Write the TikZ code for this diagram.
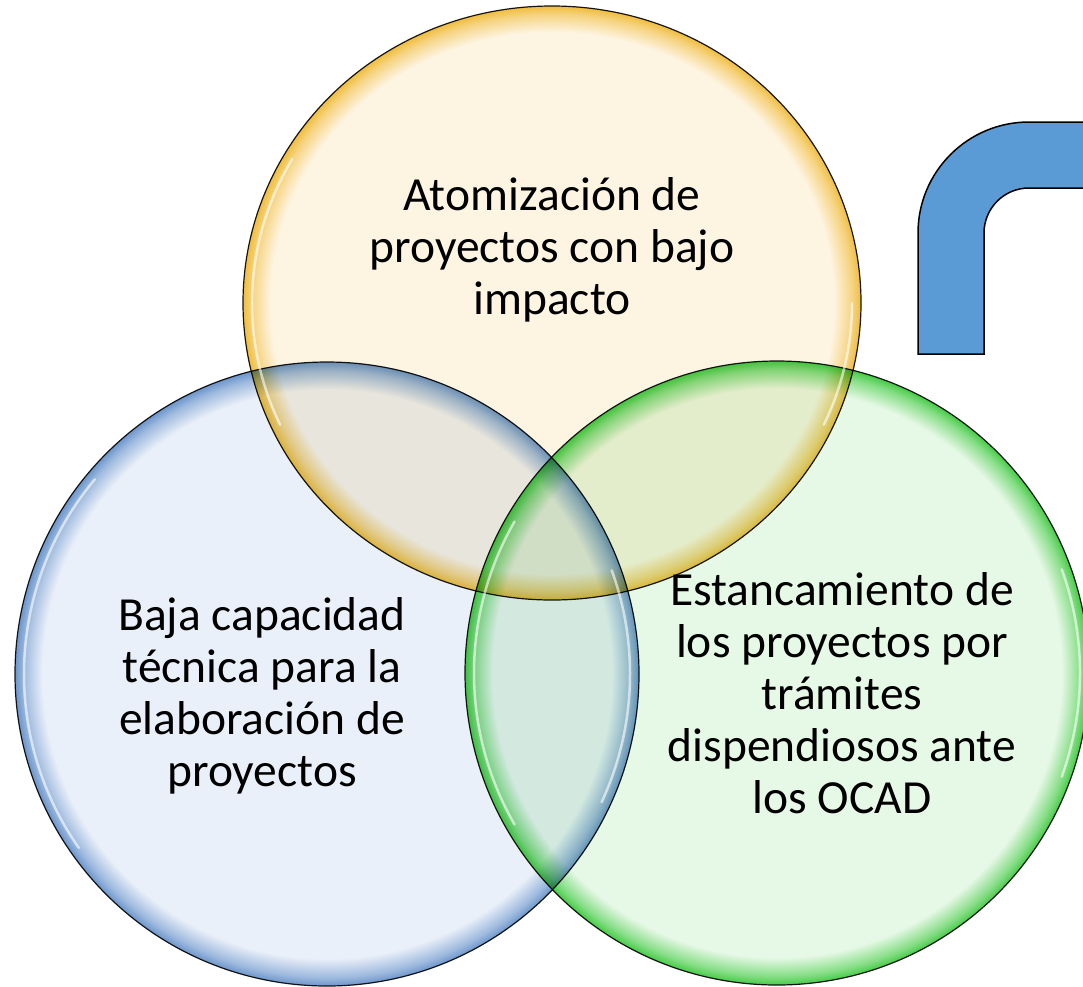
\documentclass[tikz,border=0pt]{standalone}
\usepackage{fontspec}
\setmainfont{Carlito}
\usetikzlibrary{shapes.geometric}
\definecolor{yelin}{HTML}{FDF4E2}
\definecolor{yelout}{HTML}{F0BD3E}
\definecolor{bluin}{HTML}{EAF0F9}
\definecolor{bluout}{HTML}{6C96CC}
\definecolor{grnin}{HTML}{E6F8E6}
\definecolor{grnout}{HTML}{45CC45}
\definecolor{bendblue}{HTML}{5B9BD5}
\pgfdeclareradialshading{yelglass}{\pgfpoint{0bp}{0bp}}{color(0bp)=(yelin); color(22.8bp)=(yelin); color(24.3bp)=(yelout!60!yelin); color(25bp)=(yelout); color(50bp)=(yelout)}
\pgfdeclareradialshading{bluglass}{\pgfpoint{0bp}{0bp}}{color(0bp)=(bluin); color(22.8bp)=(bluin); color(24.3bp)=(bluout!60!bluin); color(25bp)=(bluout); color(50bp)=(bluout)}
\pgfdeclareradialshading{grnglass}{\pgfpoint{0bp}{0bp}}{color(0bp)=(grnin); color(22.8bp)=(grnin); color(24.3bp)=(grnout!60!grnin); color(25bp)=(grnout); color(50bp)=(grnout)}

\begin{document}
\begin{tikzpicture}[x=1pt,y=-1pt,
	bubble/.style={circle,draw=black!90,line width=1.2pt,inner sep=0pt,minimum size=#1},
	glint/.style={white,line width=2.5pt,opacity=.6,line cap=round},
	bubbletext/.style={align=center,font=\fontsize{47.5}{52}\selectfont}]
	\useasboundingbox (0,0) rectangle (1083,986);
	\clip (0,0) rectangle (1083,986);
	\begin{scope}[blend mode=multiply]
		\node[bubble=624pt,shade,shading=bluglass] (Baja) at (327,674) {};
		\node[ellipse,draw=black!90,line width=1.2pt,inner sep=0pt,minimum width=618pt,minimum height=594pt,shade,shading=yelglass] (Atomizacion) at (552,303) {};
		\node[bubble=624pt,shade,shading=grnglass] (Estancamiento) at (777,673) {};
	\end{scope}
	\draw[glint] ([shift={(-140:303)}]Baja.center) arc[start angle=-140,end angle=-215,radius=303];
	\draw[glint] ([shift={(-20:303)}]Baja.center) arc[start angle=-20,end angle=25,radius=303];
	\draw[glint] ([shift={(-150:303)}]Estancamiento.center) arc[start angle=-150,end angle=-210,radius=303];
	\draw[glint] ([shift={(-340:303)}]Estancamiento.center) arc[start angle=-340,end angle=-380,radius=303];
	\draw[glint] ([shift={(-300,0)}]Atomizacion.center) arc[start angle=180,end angle=155,x radius=300,y radius=288];
	\draw[glint] ([shift={(-300,0)}]Atomizacion.center) arc[start angle=180,end angle=210,x radius=300,y radius=288];
	\draw[glint] ([shift={(300,0)}]Atomizacion.center) arc[start angle=0,end angle=25,x radius=300,y radius=288];
	\draw[black,line width=1.5pt,fill=bendblue] (918,354) -- (918,233) arc[start angle=180,end angle=270,radius=111] -- (1095,122) -- (1095,188) -- (1029,188) arc[start angle=270,end angle=180,radius=45] -- (984,354) -- cycle;
	\node[bubbletext] (AtomizacionT) at (552,250) {Atomización de\\proyectos con bajo\\impacto};
	\node[bubbletext] (BajaT) at (262,696) {Baja capacidad\\técnica para la\\elaboración de\\proyectos};
	\node[bubbletext] (EstancamientoT) at (842,693) {Estancamiento de\\los proyectos por\\trámites\\dispendiosos ante\\los OCAD};
\end{tikzpicture}
\end{document}
